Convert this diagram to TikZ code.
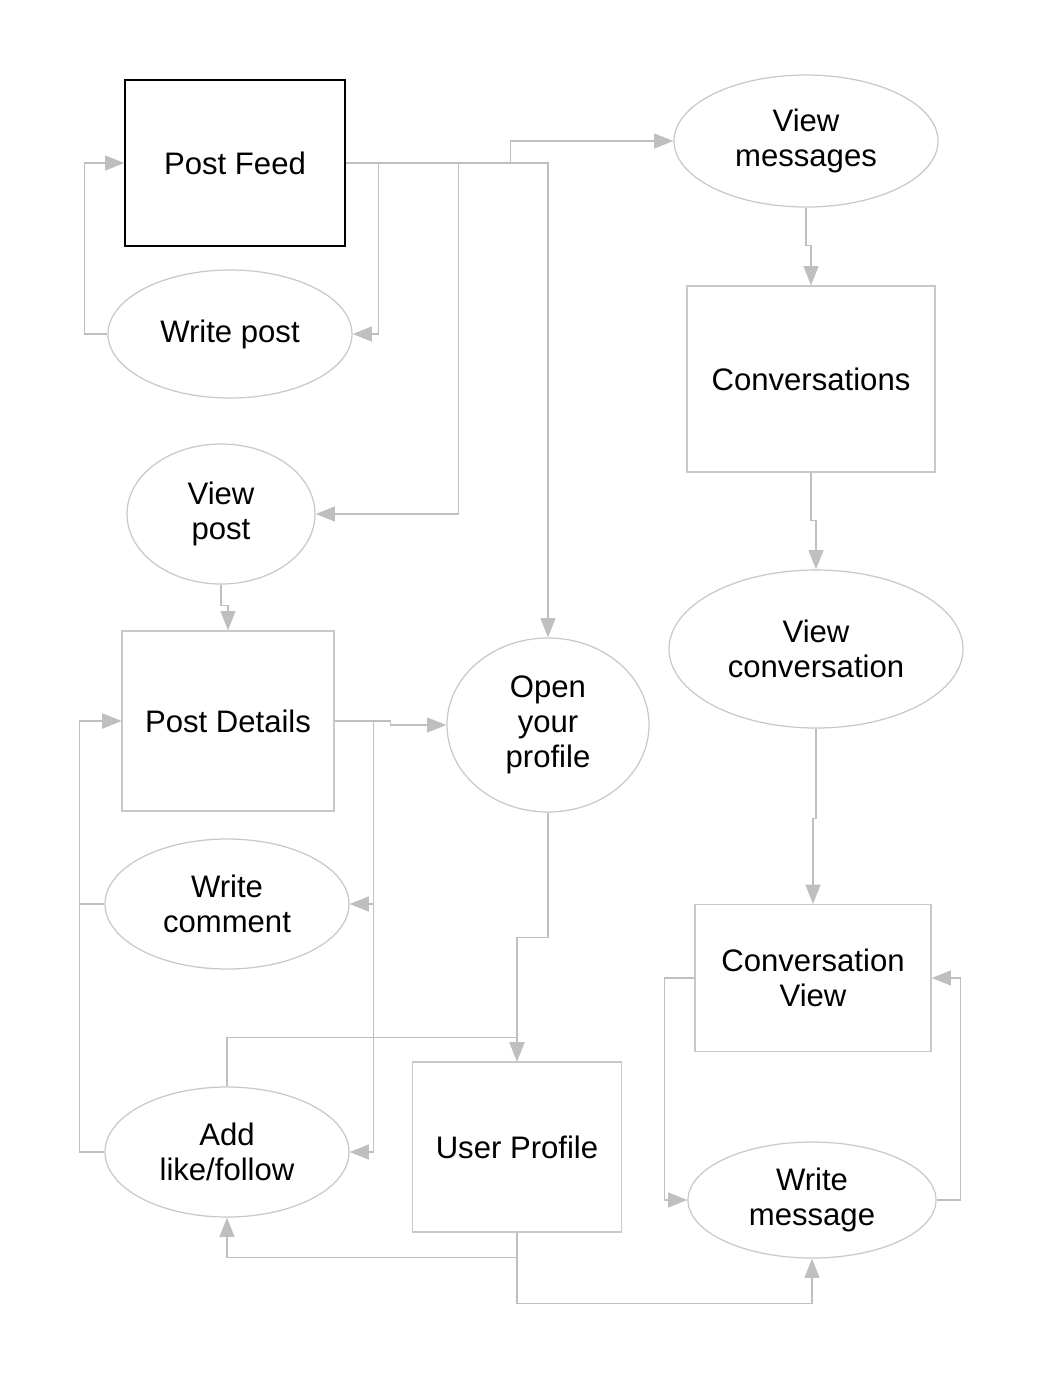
\documentclass[tikz,border=0pt]{standalone}
\usepackage{fontspec}
\setmainfont{Liberation Sans}
\usetikzlibrary{arrows.meta,shapes.geometric}
\definecolor{linegray}{RGB}{191,191,191}
\definecolor{edgegray}{RGB}{200,200,200}
\begin{document}
\begin{tikzpicture}[x=0.02cm,y=-0.02cm,%
% common options for the boxes:
box/.style = {draw=edgegray, line width=0.7pt, rectangle, align=center, inner sep=0,
            font=\fontsize{17.7}{19.8}\selectfont},
% common options for the ovals:
oval/.style = {draw=edgegray, line width=0.7pt, ellipse, align=center, inner sep=0,
            font=\fontsize{17.7}{19.8}\selectfont},
% the connectors:
link/.style = {draw=linegray, line width=0.85pt,
            -{Triangle[length=11pt,width=8.5pt,fill=linegray,color=linegray]}}]
\useasboundingbox (0,0) rectangle (1062,1374);
\node[box,draw=black,minimum width=220*0.02cm,minimum height=166*0.02cm] (PF) at (235,163) {Post Feed};
\node[oval,minimum width=244*0.02cm,minimum height=128*0.02cm] (WP) at (230,334) {Write post};
\node[oval,minimum width=264*0.02cm,minimum height=132*0.02cm] (VM) at (806,141) {View\\messages};
\node[box,minimum width=248*0.02cm,minimum height=186*0.02cm] (CS) at (811,379) {Conversations};
\node[oval,minimum width=188*0.02cm,minimum height=140*0.02cm] (VP) at (221,514) {View\\post};
\node[box,minimum width=212*0.02cm,minimum height=180*0.02cm] (PD) at (228,721) {Post Details};
\node[oval,minimum width=202*0.02cm,minimum height=174*0.02cm] (OP) at (548,725) {Open\\your\\profile};
\node[oval,minimum width=294*0.02cm,minimum height=158*0.02cm] (VC) at (816,649) {View\\conversation};
\node[oval,minimum width=244*0.02cm,minimum height=130*0.02cm] (WC) at (227,904) {Write\\comment};
\node[box,minimum width=236*0.02cm,minimum height=147*0.02cm] (CV) at (813,978) {Conversation\\View};
\node[oval,minimum width=244*0.02cm,minimum height=130*0.02cm] (AL) at (227,1152) {Add\\like/follow};
\node[box,minimum width=209*0.02cm,minimum height=170*0.02cm] (UP) at (517,1147) {User Profile};
\node[oval,minimum width=248*0.02cm,minimum height=116*0.02cm] (WM) at (812,1200) {Write\\message};
% feed
\draw[link] (PF.east) -- ++(33,0) |- (WP.east);
\draw[link] (WP.west) -- ++(-23,0) |- (PF.west);
\draw[link] (PF.east) -- ++(113,0) |- (VP.east);
\draw[link] (PF.east) -| (OP.north);
\draw[link] (PF.east) -- ++(165,0) |- (VM.west);
% messages
\draw[link] (VM.south) -- ++(0,38) -| (CS.north);
\draw[link] (CS.south) -- ++(0,48) -| (VC.north);
\draw[link] (VC.south) -- ++(0,90) -| (CV.north);
\draw[link] (CV.west) -- ++(-30,0) |- (WM.west);
\draw[link] (WM.east) -- ++(24,0) |- (CV.east);
% post details
\draw[link] (VP.south) -- ++(0,21) -| (PD.north);
\draw[link] (PD.east) -- ++(56,0) |- (OP.west);
\draw[link] (PD.east) -- ++(39,0) |- (WC.east);
\draw[link] (PD.east) -- ++(39,0) |- (AL.east);
\draw[link] (WC.west) -- ++(-25,0) |- (PD.west);
\draw[link] (AL.west) -- ++(-25,0) |- (PD.west);
% profile
\draw[link] (OP.south) -- ++(0,125) -| (UP.north);
\draw[link] (AL.north) -- ++(0,-49) -| (UP.north);
\draw[link] (UP.south) -- ++(0,25) -| (AL.south);
\draw[link] (UP.south) -- ++(0,71) -| (WM.south);
\end{tikzpicture}
\end{document}
